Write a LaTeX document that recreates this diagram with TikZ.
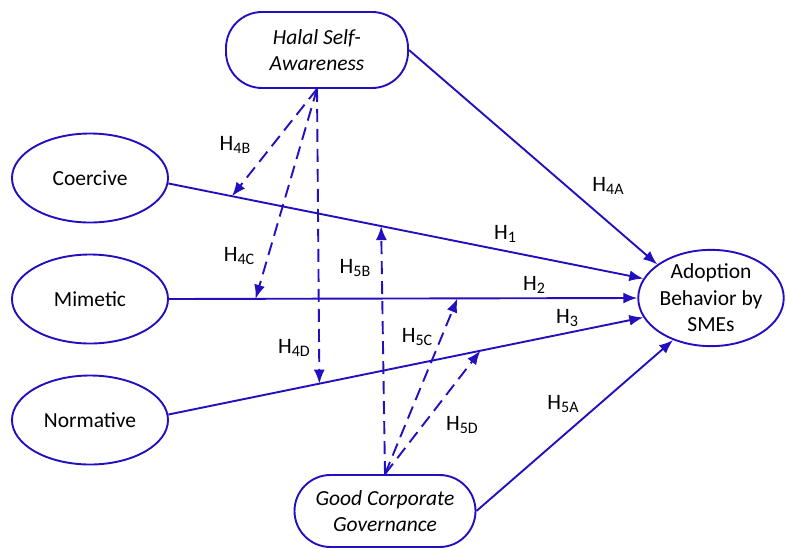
\documentclass[tikz,border=0pt]{standalone}
\usepackage{fontspec}
\setmainfont{Carlito}
\usetikzlibrary{arrows.meta,shapes.geometric}
\definecolor{dblue}{RGB}{34,16,192}
\tikzset{
  construct/.style={ellipse,draw=dblue,line width=1.9pt,fill=white,minimum width=156pt,minimum height=89pt,inner sep=0pt,align=center,font=\fontsize{21.5}{26.5}\selectfont},
  stadium/.style={rectangle,draw=dblue,line width=1.9pt,fill=white,minimum width=182pt,minimum height=76pt,rounded corners=36pt,inner sep=0pt,align=center,font=\fontsize{21.5}{26.5}\selectfont\itshape},
  link/.style={draw=dblue,line width=1.9pt,-{Latex[length=14pt,width=11pt]}},
  dlink/.style={link,dash pattern=on 13pt off 7pt},
  hlab/.style={font=\fontsize{22}{24}\selectfont,inner sep=0pt}
}
\newcommand{\hy}[1]{H\raisebox{-0.35ex}{\fontsize{16}{16}\selectfont #1}}
\begin{document}
\begin{tikzpicture}[x=1pt,y=-1pt]
\useasboundingbox (0,0) rectangle (786,549);
% nodes
\node[stadium] (halal) at (317,50) {Halal Self-\\Awareness};
\node[stadium,minimum width=181pt,minimum height=72pt] (gcg) at (385,511) {Good Corporate\\Governance};
\node[construct] (coercive) at (90,178) {Coercive};
\node[construct] (mimetic) at (90,299) {Mimetic};
\node[construct] (normative) at (90,420) {Normative};
\node[construct,minimum width=144pt,minimum height=87pt] (adopt) at (711,298) {Adoption\\Behavior by\\SMEs};
% main paths
\draw[link] (coercive.-4) -- (adopt.164)
  coordinate[pos=0.134] (c4b) coordinate[pos=0.448] (c5b);
\draw[link] (mimetic.east) -- (adopt.west)
  coordinate[pos=0.185] (c4c) coordinate[pos=0.616] (c5c);
\draw[link] (normative.4) -- (adopt.196)
  coordinate[pos=0.318] (c4d) coordinate[pos=0.657] (c5d);
\draw[link] (halal.east) -- (adopt.148);
\draw[link] (gcg.east) -- (adopt.228);
% moderating dashed paths
\draw[dlink] (halal.south) -- (c4b);
\draw[dlink] (halal.south) -- (c4c);
\draw[dlink] (halal.south) -- (c4d);
\draw[dlink] (gcg.north) -- (c5b);
\draw[dlink] (gcg.north) -- (c5c);
\draw[dlink] (gcg.north) -- (c5d);
% labels
\node[hlab] (l4b) at (235,145) {\hy{4B}};
\node[hlab] (l4c) at (239,256) {\hy{4C}};
\node[hlab] (l4d) at (294,348) {\hy{4D}};
\node[hlab] (l5b) at (355,268) {\hy{5B}};
\node[hlab] (l5c) at (417,337) {\hy{5C}};
\node[hlab] (l5d) at (462,425) {\hy{5D}};
\node[hlab] (l4a) at (608,186) {\hy{4A}};
\node[hlab] (l1) at (505,234) {\hy{1}};
\node[hlab] (l2) at (534,285) {\hy{2}};
\node[hlab] (l3) at (567,318) {\hy{3}};
\node[hlab] (l5a) at (563,404) {\hy{5A}};
\end{tikzpicture}
\end{document}
